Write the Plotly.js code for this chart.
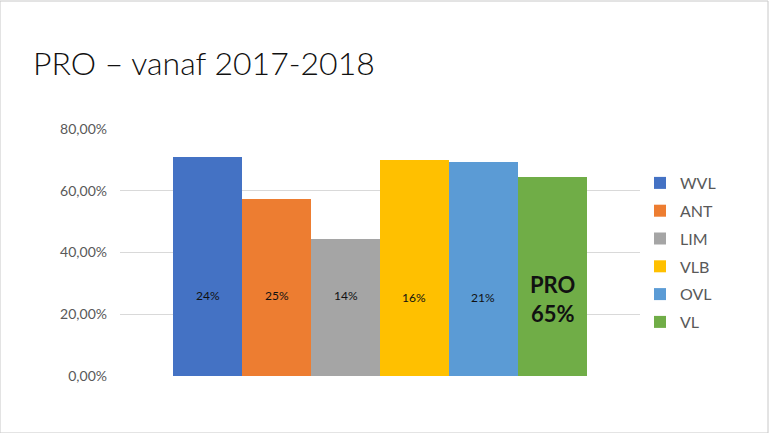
<!DOCTYPE html>
<html>
<head>
<meta charset="utf-8">
<script src="https://cdn.plot.ly/plotly-3.0.1.min.js"></script>
<style>html,body{margin:0;padding:0;background:#fff;}#chart{width:769px;height:433px;}</style>
</head>
<body>
<div id="chart"></div>
<script>
var regions = ["WVL", "ANT", "LIM", "VLB", "OVL", "VL"];
var values = [0.709, 0.574, 0.444, 0.699, 0.694, 0.645];
var colors = ["#4472C4", "#ED7D31", "#A5A5A5", "#FFC000", "#5B9BD5", "#70AD47"];
var labels = ["24%", "25%", "14%", "16%", "21%", "PRO<br>65%"];
var labelY = [0.26, 0.26, 0.26, 0.255, 0.255, 0.25];
var yTicks = [0, 0.2, 0.4, 0.6, 0.8];

var traces = regions.map(function (r, i) {
  return {
    type: "bar",
    name: r,
    legendgroup: r,
    x: [r],
    y: [values[i]],
    marker: { color: colors[i] },
    width: 1,
    hoverinfo: "none"
  };
});

var annotations = regions.map(function (r, i) {
  var isPro = i === regions.length - 1;
  return {
    x: r, y: labelY[i], xref: "x", yref: "y",
    text: isPro ? "<b>" + labels[i] + "</b>" : labels[i],
    showarrow: false,
    font: { family: "Lato, 'Open Sans', sans-serif", size: isPro ? 22 : 12, color: "#111" }
  };
});

var layout = {
  width: 769, height: 433,
  paper_bgcolor: "#ffffff", plot_bgcolor: "#ffffff",
  margin: { l: 120, r: 129, t: 129, b: 57 },
  separators: ", ",
  barmode: "overlay",
  bargap: 0,
  showlegend: true,
  title: {
    text: "PRO – vanaf 2017-2018",
    x: 33 / 769, xref: "container", xanchor: "left",
    y: 1 - 64 / 433, yref: "container", yanchor: "middle",
    font: { family: "Lato, 'Open Sans', sans-serif", size: 32, color: "#111", weight: 300 }
  },
  xaxis: {
    type: "category",
    range: [-1.27, 6.27],
    showticklabels: false, showgrid: false, zeroline: false, showline: false, ticks: ""
  },
  yaxis: {
    range: [0, 0.8],
    tickvals: yTicks,
    tickformat: ".2%",
    showgrid: true, gridcolor: "#d9d9d9", gridwidth: 1,
    zeroline: false, showline: false, ticks: "",
    ticklabelstandoff: 12,
    tickfont: { family: "Lato, 'Open Sans', sans-serif", size: 14, color: "#595959" }
  },
  legend: {
    x: 1.0, xanchor: "left",
    y: 0.5, yanchor: "middle",
    font: { family: "Lato, 'Open Sans', sans-serif", size: 16, color: "#595959" },
    itemwidth: 30,
    tracegroupgap: 4
  },
  annotations: annotations,
  shapes: [{
    type: "rect", xref: "paper", yref: "paper",
    x0: -120 / 520, x1: 648 / 520, y0: -57 / 247, y1: 1 + 128 / 247,
    line: { color: "#c8c8c8", width: 1 }, fillcolor: "rgba(0,0,0,0)", layer: "below"
  }]
};

Plotly.newPlot("chart", traces, layout, { staticPlot: true, displayModeBar: false });
</script>
</body>
</html>
